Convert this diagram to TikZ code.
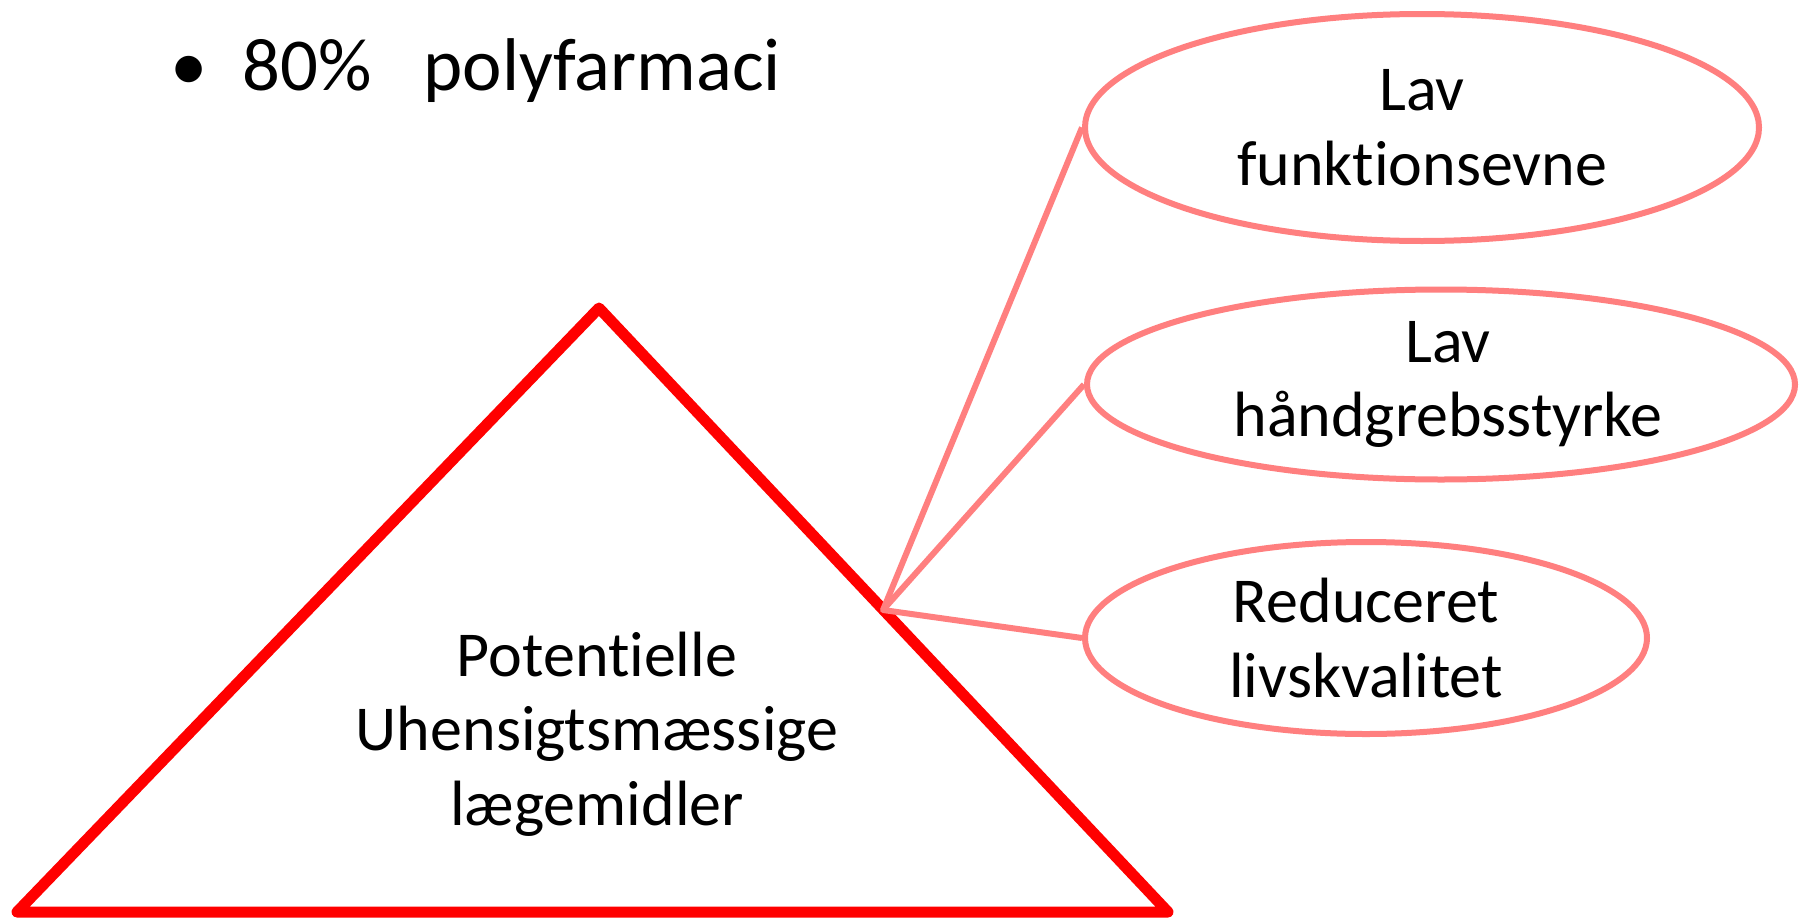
\documentclass[tikz,border=0pt]{standalone}
\usepackage{fontspec}
\setmainfont[Ligatures=NoCommon]{Carlito}
\usetikzlibrary{shapes.geometric}
\definecolor{tri}{RGB}{255,0,0}
\definecolor{pinkline}{RGB}{255,127,127}
\tikzset{
  oval/.style={ellipse, draw=pinkline, line width=6pt, inner sep=0pt, align=center,
    font=\fontsize{64}{74.6}\selectfont},
  link/.style={draw=pinkline, line width=6pt},
  tritext/.style={align=center, font=\fontsize{64}{74.6}\selectfont},
}
\begin{document}
\begin{tikzpicture}[x=1pt,y=-1pt]
\useasboundingbox[fill=white] (0,0) rectangle (1799,918);
% bullet
\node[anchor=base west, inner sep=0pt, font=\fontsize{74.7}{86}\selectfont] (bul) at (170,90) {\textbullet\hspace{35pt}80\%\hspace{52pt}polyfarmaci};
% triangle
\coordinate (apex) at (599,308);
\coordinate (bl) at (17,912);
\coordinate (br) at (1168,912);
\draw[tri, line width=11pt, line join=round] (apex) -- (br) -- (bl) -- cycle;
\node[tritext] (tt) at (597,734) {Potentielle\\Uhensigtsmæssige\\lægemidler};
% ellipses
\node[oval, minimum width=674pt, minimum height=227pt] (e1) at (1422,127.5) {Lav\\funktionsevne};
\node[oval, minimum width=708pt, minimum height=190pt] (e2) at (1441,384.5) {\hspace*{14pt}Lav\\\hspace*{14pt}håndgrebsstyrke};
\node[oval, minimum width=562pt, minimum height=192pt] (e3) at (1366,638) {Reduceret\\livskvalitet};
% connectors
\coordinate (j) at (883,610);
\draw[link, line join=round] (e1.west) -- (j) -- (e3.west);
\draw[link] (j) -- (e2.west);
\end{tikzpicture}
\end{document}
